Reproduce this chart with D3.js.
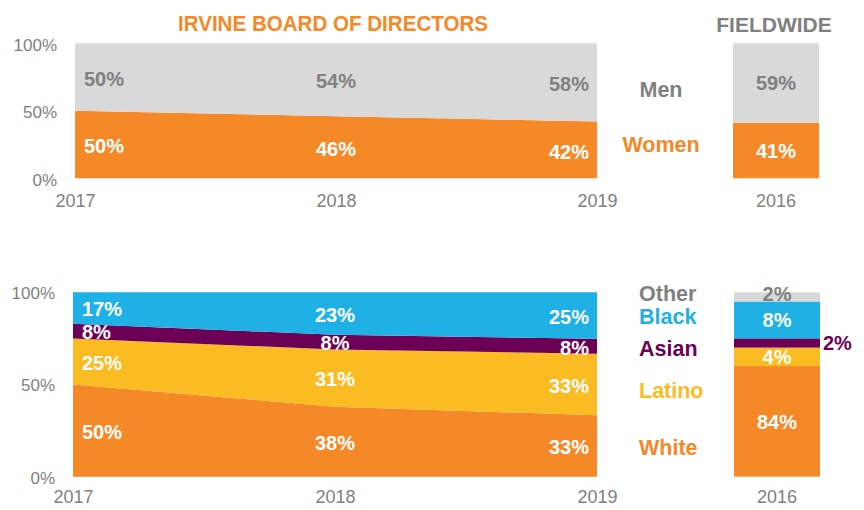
<!DOCTYPE html>
<html>
<head>
<meta charset="utf-8">
<script src="https://cdn.jsdelivr.net/npm/d3@7"></script>
<style>
  html, body { margin: 0; padding: 0; background: #fff; }
  svg { display: block; font-family: "Liberation Sans", Arial, sans-serif; }
</style>
</head>
<body>
<svg id="chart" width="864" height="510"></svg>
<script>
// ---------- DATA ----------
const years = ["2017", "2018", "2019"];
const yTicks = [0, 50, 100];

// Gender (Irvine board)
const genderKeys = ["Women", "Men"];
const women = [50, 46, 42];
const men = [50, 54, 58];

// Gender (fieldwide)
const fieldwideYear = ["2016"];
const womenFieldwide = [41];
const menFieldwide = [59];

// Race (Irvine board)
const raceKeys = ["White", "Latino", "Asian", "Black"];
const white = [50, 38, 33];
const latino = [25, 31, 33];
const asian = [8, 8, 8];
const black = [17, 23, 25];

const fwRaceKeys = ["White", "Latino", "Asian", "Black", "Other"];
const fwRaceBar = [60, 10, 5, 20, 5];
const fwRaceLabel = [84, 4, 2, 8, 2];

// ---------- STYLE ----------
const C = {
  orange: "#F58827",
  lightGray: "#D9D9D9",
  textGray: "#808080",
  blue: "#1FB1E6",
  purple: "#6C0057",
  yellow: "#FBBB22",
  white: "#FFFFFF"
};
const raceColor = { White: C.orange, Latino: C.yellow, Asian: C.purple, Black: C.blue, Other: C.lightGray };
const genderColor = { Women: C.orange, Men: C.lightGray };
const LABEL_SIZE = 20;
const YEAR_SIZE = 18;

const svg = d3.select("#chart");

// ---------- TITLES ----------
svg.append("text").attr("x", 333).attr("y", 31).attr("text-anchor", "middle")
  .attr("font-size", 21.5).attr("font-weight", "bold").attr("fill", C.orange)
  .attr("textLength", 310).attr("lengthAdjust", "spacingAndGlyphs")
  .text("IRVINE BOARD OF DIRECTORS");
svg.append("text").attr("x", 774).attr("y", 31.5).attr("text-anchor", "middle")
  .attr("font-size", 21).attr("font-weight", "bold").attr("fill", C.textGray)
  .text("FIELDWIDE");

function styleAxis(size) {
  return g => {
    g.select(".domain").remove();
    g.selectAll("text").attr("fill", C.textGray).attr("font-size", size)
      .attr("font-family", "Liberation Sans, Arial, sans-serif");
  };
}

function labelX(x, year) {
  const i = years.indexOf(year);
  if (i === 0) return { x: x(year) + 9, anchor: "start" };
  if (i === years.length - 1) return { x: x(year) - 8, anchor: "end" };
  return { x: x(year), anchor: "middle" };
}

// ---------- TOP: GENDER ----------
{
  const y = d3.scaleLinear().domain([0, 100]).range([178.3, 43.3]);
  const x = d3.scalePoint().domain(years).range([75, 597]);
  const rows = years.map((yr, i) => ({ year: yr, Women: women[i], Men: men[i] }));
  const series = d3.stack().keys(genderKeys).offset(d3.stackOffsetExpand)(rows);
  const yE = v => y(v * 100);
  const area = d3.area().x(d => x(d.data.year)).y0(d => yE(d[0])).y1(d => yE(d[1]));

  svg.append("g").selectAll("path").data(series).join("path")
    .attr("d", area).attr("fill", d => genderColor[d.key]);

  series.forEach(s => {
    s.forEach(d => {
      const p = labelX(x, d.data.year);
      svg.append("text").attr("x", p.x).attr("y", yE((d[0] + d[1]) / 2) + 1.5)
        .attr("dy", "0.36em").attr("text-anchor", p.anchor)
        .attr("font-size", LABEL_SIZE).attr("font-weight", "bold")
        .attr("fill", s.key === "Men" ? C.textGray : C.white)
        .text(d.data[s.key] + "%");
    });
  });

  svg.append("g").attr("transform", "translate(75,1.5)")
    .call(d3.axisLeft(y).tickValues(yTicks).tickFormat(d => d + "%").tickSize(0).tickPadding(18))
    .call(styleAxis(17));
  svg.append("g").attr("transform", "translate(0,178.3)")
    .call(d3.axisBottom(x).tickSize(0).tickPadding(16))
    .call(styleAxis(YEAR_SIZE));

  // fieldwide bar
  const xb = d3.scaleBand().domain(fieldwideYear).range([733, 819]);
  const fwRows = fieldwideYear.map((yr, i) => ({ year: yr, Women: womenFieldwide[i], Men: menFieldwide[i] }));
  const fwSeries = d3.stack().keys(genderKeys)(fwRows);
  svg.append("g").selectAll("rect").data(fwSeries).join("rect")
    .attr("x", d => xb(d[0].data.year)).attr("width", xb.bandwidth())
    .attr("y", d => y(d[0][1])).attr("height", d => y(d[0][0]) - y(d[0][1]))
    .attr("fill", d => genderColor[d.key]);
  fwSeries.forEach(s => {
    const d = s[0];
    svg.append("text").attr("x", xb(d.data.year) + xb.bandwidth() / 2)
      .attr("y", y((d[0] + d[1]) / 2)).attr("dy", "0.36em").attr("text-anchor", "middle")
      .attr("font-size", LABEL_SIZE).attr("font-weight", "bold")
      .attr("fill", s.key === "Men" ? C.textGray : C.white)
      .text(d.data[s.key] + "%");
  });
  svg.append("g").attr("transform", "translate(0,178.3)")
    .call(d3.axisBottom(xb).tickSize(0).tickPadding(16))
    .call(styleAxis(YEAR_SIZE));

  // legend
  const legend = [{ k: "Men", y: 97 }, { k: "Women", y: 152 }];
  legend.forEach(l => {
    svg.append("text").attr("x", 661).attr("y", l.y).attr("text-anchor", "middle")
      .attr("font-size", 21.5).attr("font-weight", "bold")
      .attr("fill", l.k === "Men" ? C.textGray : C.orange).text(l.k);
  });
}

// ---------- BOTTOM: RACE ----------
{
  const y = d3.scaleLinear().domain([0, 100]).range([476.7, 292.3]);
  const x = d3.scalePoint().domain(years).range([73, 597]);
  const rows = years.map((yr, i) => ({ year: yr, White: white[i], Latino: latino[i], Asian: asian[i], Black: black[i] }));
  const series = d3.stack().keys(raceKeys).offset(d3.stackOffsetExpand)(rows);
  const yE = v => y(v * 100);
  const area = d3.area().x(d => x(d.data.year)).y0(d => yE(d[0])).y1(d => yE(d[1]));

  svg.append("g").selectAll("path").data(series).join("path")
    .attr("d", area).attr("fill", d => raceColor[d.key]);

  series.forEach(s => {
    s.forEach(d => {
      const p = labelX(x, d.data.year);
      svg.append("text").attr("x", p.x).attr("y", yE((d[0] + d[1]) / 2) + 1)
        .attr("dy", "0.36em").attr("text-anchor", p.anchor)
        .attr("font-size", LABEL_SIZE).attr("font-weight", "bold").attr("fill", C.white)
        .text(d.data[s.key] + "%");
    });
  });

  svg.append("g").attr("transform", "translate(73,1)")
    .call(d3.axisLeft(y).tickValues(yTicks).tickFormat(d => d + "%").tickSize(0).tickPadding(18))
    .call(styleAxis(17));
  svg.append("g").attr("transform", "translate(0,476.7)")
    .call(d3.axisBottom(x).tickSize(0).tickPadding(14))
    .call(styleAxis(YEAR_SIZE));

  // fieldwide bar
  const xb = d3.scaleBand().domain(fieldwideYear).range([734, 820]);
  const fwRow = { year: fieldwideYear[0] };
  fwRaceKeys.forEach((k, i) => { fwRow[k] = fwRaceBar[i]; });
  const fwSeries = d3.stack().keys(fwRaceKeys)([fwRow]);
  svg.append("g").selectAll("rect").data(fwSeries).join("rect")
    .attr("x", xb(fieldwideYear[0])).attr("width", xb.bandwidth())
    .attr("y", d => y(d[0][1])).attr("height", d => y(d[0][0]) - y(d[0][1]))
    .attr("fill", d => raceColor[d.key]);
  fwSeries.forEach((s, i) => {
    const d = s[0];
    const outside = s.key === "Asian";
    const isOther = s.key === "Other";
    svg.append("text")
      .attr("x", outside ? xb(fieldwideYear[0]) + xb.bandwidth() + 3 : xb(fieldwideYear[0]) + xb.bandwidth() / 2)
      .attr("y", y((d[0] + d[1]) / 2) - (isOther ? 3 : 0)).attr("dy", "0.36em")
      .attr("text-anchor", outside ? "start" : "middle")
      .attr("font-size", LABEL_SIZE).attr("font-weight", "bold")
      .attr("fill", outside ? C.purple : (isOther ? C.textGray : C.white))
      .text(fwRaceLabel[i] + "%");
  });
  svg.append("g").attr("transform", "translate(0,476.7)")
    .call(d3.axisBottom(xb).tickSize(0).tickPadding(14))
    .call(styleAxis(YEAR_SIZE));

  const legend = [
    { k: "Other", y: 300.5 }, { k: "Black", y: 323.5 }, { k: "Asian", y: 356 },
    { k: "Latino", y: 397.5 }, { k: "White", y: 455 }
  ];
  legend.forEach(l => {
    svg.append("text").attr("x", 639).attr("y", l.y)
      .attr("font-size", 21.5).attr("font-weight", "bold")
      .attr("fill", l.k === "Other" ? C.textGray : raceColor[l.k]).text(l.k);
  });
}
</script>
</body>
</html>
